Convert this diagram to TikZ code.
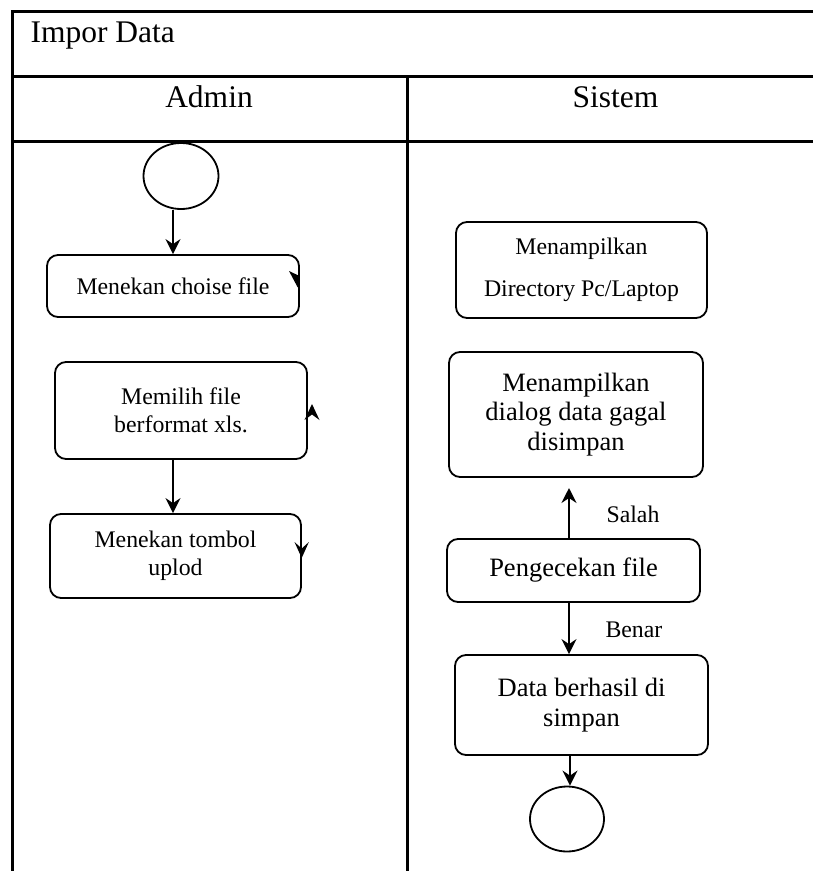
\documentclass[tikz,border=0pt]{standalone}
\usepackage{fontspec}
\setmainfont{Liberation Serif}
\usetikzlibrary{arrows.meta,shapes.geometric}

\begin{document}
\begin{tikzpicture}[x=1pt,y=-1pt,
  lane/.style={line width=3pt},
  act/.style={draw, line width=1.8pt, rounded corners=11pt, align=center, inner sep=0pt},
  smalltext/.style={font=\fontsize{23.8}{28}\selectfont},
  bigtext/.style={font=\fontsize{26.5}{29.8}\selectfont},
  headtext/.style={font=\fontsize{31.5}{36}\selectfont},
  flow/.style={line width=2pt, -{Stealth[length=15pt,width=15pt,inset=5pt]}},
  term/.style={draw, ellipse, line width=1.8pt, inner sep=0pt},
  tip/.style={fill=black}
]
\useasboundingbox (0,0) rectangle (813,871);

% swimlane frame
\draw[lane] (813,11) -- (12,11) -- (12,871);
\draw[lane] (12,76) -- (813,76);
\draw[lane] (12,141) -- (813,141);
\draw[lane] (407,76) -- (407,871);

\node[headtext, anchor=base west] (title) at (27,42) {Impor Data};
\node[headtext, anchor=base] (admin) at (209,107) {Admin};
\node[headtext, anchor=base] (sistem) at (615.5,107) {Sistem};

% Admin lane
\node[term, minimum width=75pt, minimum height=66pt] (start) at (181,176) {};
\node[act, smalltext, minimum width=252pt, minimum height=62pt] (choose) at (173,286) {Menekan choise file};
\node[act, smalltext, minimum width=252pt, minimum height=97pt] (pick) at (181,410.5) {Memilih file\\berformat xls.};
\node[act, smalltext, minimum width=251pt, minimum height=84pt] (upload) at (175.5,556) {Menekan tombol\\uplod};

\draw[flow] (start.south -| choose.north) -- (choose.north);
\draw[flow] ([xshift=-8pt]pick.south) -- ([xshift=-8pt]pick.south |- upload.north);

% small arrow tips on the box edges
\fill[tip] (289,271) -- (299.5,276) -- (299.5,288) -- (297.5,287) -- cycle;
\fill[tip] (312,404) -- (319.5,420) -- (312,414.5) -- (304.5,420) -- cycle;
\fill[tip] (301.7,558) -- (294.5,542) -- (301.7,548.5) -- (308.9,542) -- cycle;

% Sistem lane
\node[act, smalltext, minimum width=251pt, minimum height=96pt] (dir) at (581.5,270) {Menampilkan\\[14pt]Directory Pc/Laptop};
\node[act, bigtext, minimum width=254pt, minimum height=125pt] (fail) at (576,414.5) {Menampilkan\\dialog data gagal\\disimpan};
\node[act, bigtext, minimum width=253pt, minimum height=63pt] (check) at (573.5,570.5) {Pengecekan file};
\node[act, bigtext, minimum width=253pt, minimum height=100pt] (saved) at (581.5,705) {Data berhasil di\\simpan};
\node[term, minimum width=74pt, minimum height=65pt] (stop) at (567,819) {};

\coordinate (wrongend) at (569,488);
\draw[flow] ([xshift=-4.5pt]check.north) -- (wrongend);
\draw[flow] ([xshift=-4.5pt]check.south) -- ([xshift=-4.5pt]check.south |- saved.north);
\draw[flow] ([xshift=-11.5pt]saved.south) -- ([xshift=-11.5pt]saved.south |- stop.north);

\node[smalltext, anchor=base west] (salah) at (603,522) {Salah};
\node[smalltext, anchor=base west] (benar) at (602,637) {Benar};
\end{tikzpicture}
\end{document}
